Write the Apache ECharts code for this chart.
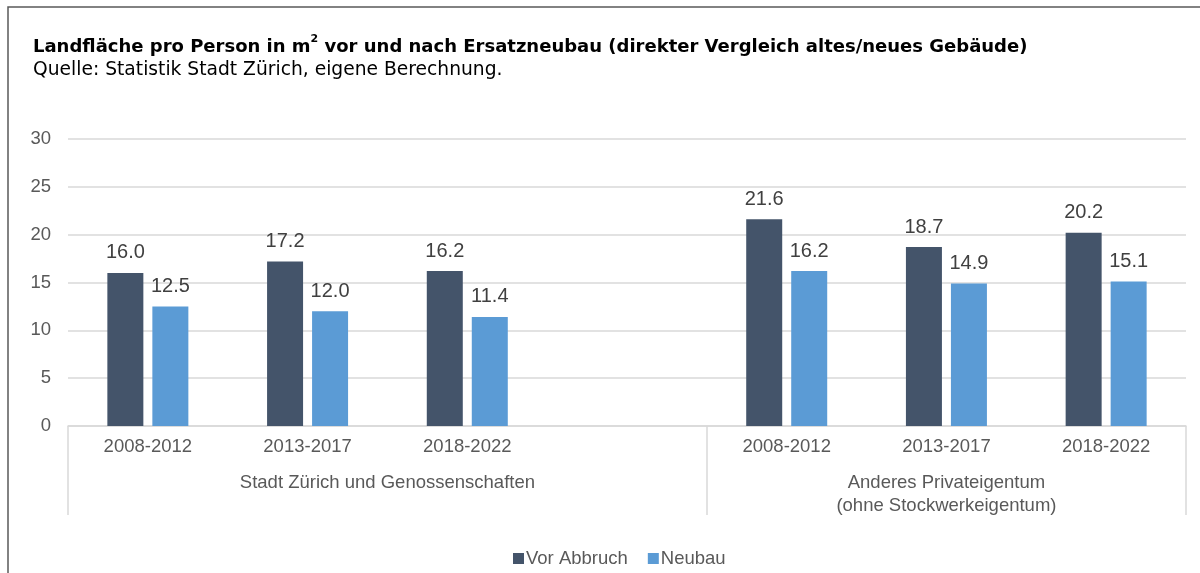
<!DOCTYPE html>
<html>
<head>
<meta charset="utf-8">
<script src="https://cdn.jsdelivr.net/npm/echarts@6/dist/echarts.min.js"></script>
<style>
  html, body { margin: 0; padding: 0; background: #fff; }
  #chart { width: 1200px; height: 573px; }
</style>
</head>
<body>
<div id="chart"></div>
<script>
var categories = ['2008-2012', '2013-2017', '2018-2022', '', '2008-2012', '2013-2017', '2018-2022'];
var vorAbbruch = [16.0, 17.2, 16.2, null, 21.6, 18.7, 20.2];
var neubau = [12.5, 12.0, 11.4, null, 16.2, 14.9, 15.1];
var groupLabels = ['Stadt Zürich und Genossenschaften', 'Anderes Privateigentum\n(ohne Stockwerkeigentum)'];
var groupCenters = [2, 5.5];
var groupBounds = [0, 4, 7];

var font = 'Liberation Sans, Arial, sans-serif';
var titleFont = 'DejaVu Sans, sans-serif';
var grey = '#595959';

var chart = echarts.init(document.getElementById('chart'));

var barLabel = {
    show: true,
    position: 'top',
    distance: 10,
    color: '#404040',
    fontSize: 20,
    fontFamily: font,
    formatter: function (p) { return p.value == null ? '' : p.value.toFixed(1); }
};

chart.setOption({
    backgroundColor: '#fff',
    animation: false,
    graphic: [{
        type: 'rect',
        shape: { x: 8, y: 7, width: 1260, height: 700 },
        style: { fill: 'none', stroke: '#595959', lineWidth: 1.5 },
        silent: true
    }],
    title: {
        left: 28,
        top: 29,
        text: '{b|Landfläche pro Person in m}{sup|2}{b| vor und nach Ersatzneubau (direkter Vergleich altes/neues Gebäude)}',
        textStyle: {
            rich: {
                b: { fontSize: 18, fontWeight: 'bold', color: '#000', fontFamily: titleFont, verticalAlign: 'bottom', lineHeight: 22 },
                sup: { fontSize: 11, fontWeight: 'bold', color: '#000', fontFamily: titleFont, verticalAlign: 'top', lineHeight: 22, padding: [0, 0, 9, 0] }
            }
        },
        subtext: 'Quelle: Statistik Stadt Zürich, eigene Berechnung.',
        subtextStyle: { fontSize: 18.7, color: '#000', fontFamily: titleFont },
        itemGap: 5
    },
    legend: {
        top: 544,
        left: 508,
        icon: 'rect',
        itemWidth: 11,
        itemHeight: 11,
        itemGap: 20,
        textStyle: { fontSize: 18.5, color: grey, fontFamily: font, padding: [0, 0, 0, -3] },
        data: ['Vor Abbruch', 'Neubau']
    },
    grid: { left: 68, right: 14, top: 139, bottom: 147 },
    xAxis: [{
        type: 'category',
        data: categories,
        axisLine: { lineStyle: { color: '#d9d9d9', width: 1.5 } },
        axisTick: { show: false },
        axisLabel: { fontSize: 18.5, color: grey, fontFamily: font, margin: 11 }
    }, {
        type: 'value',
        min: 0,
        max: 7,
        position: 'bottom',
        axisLine: { show: false },
        splitLine: { show: false },
        axisTick: {
            show: true,
            customValues: groupBounds,
            length: 89,
            lineStyle: { color: '#d9d9d9', width: 1.5 }
        },
        axisLabel: {
            customValues: groupCenters,
            margin: 45,
            fontSize: 18.5,
            lineHeight: 23,
            color: grey,
            fontFamily: font,
            formatter: function (v) { return groupLabels[groupCenters.indexOf(v)]; }
        }
    }],
    yAxis: {
        type: 'value',
        min: 0,
        max: 30,
        interval: 5,
        axisLine: { show: false },
        axisTick: { show: false },
        axisLabel: { fontSize: 18.5, color: grey, fontFamily: font, margin: 17 },
        splitLine: { lineStyle: { color: '#d9d9d9', width: 1.5 } }
    },
    series: [{
        name: 'Vor Abbruch',
        type: 'bar',
        data: vorAbbruch,
        barWidth: 36,
        barGap: '25%',
        itemStyle: { color: '#44546a' },
        label: barLabel
    }, {
        name: 'Neubau',
        type: 'bar',
        data: neubau,
        barWidth: 36,
        itemStyle: { color: '#5b9bd5' },
        label: barLabel
    }]
});
</script>
</body>
</html>
